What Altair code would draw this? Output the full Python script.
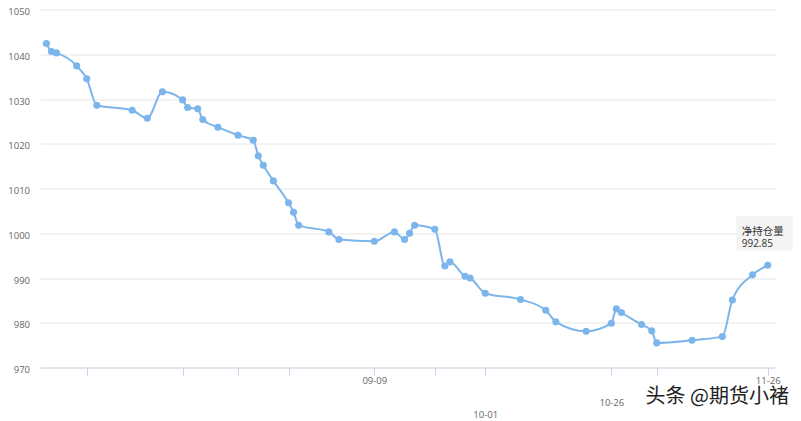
import altair as alt
import pandas as pd

series_name = "净持仓量"
watermark = "头条 @期货小褚"

dates = ["2020-07-06", "2020-07-07", "2020-07-08", "2020-07-12", "2020-07-14", "2020-07-16",
         "2020-07-23", "2020-07-26", "2020-07-29", "2020-08-02", "2020-08-03", "2020-08-05",
         "2020-08-06", "2020-08-09", "2020-08-13", "2020-08-16", "2020-08-17", "2020-08-18",
         "2020-08-20", "2020-08-23", "2020-08-24", "2020-08-25", "2020-08-31", "2020-09-02",
         "2020-09-09", "2020-09-13", "2020-09-15", "2020-09-16", "2020-09-17", "2020-09-21",
         "2020-09-23", "2020-09-24", "2020-09-27", "2020-09-28", "2020-10-01", "2020-10-08",
         "2020-10-13", "2020-10-15", "2020-10-21", "2020-10-26", "2020-10-27", "2020-10-28",
         "2020-11-01", "2020-11-03", "2020-11-04", "2020-11-11", "2020-11-17", "2020-11-19",
         "2020-11-23", "2020-11-26"]
values = [1042.4, 1040.6, 1040.3, 1037.4, 1034.5, 1028.6, 1027.5, 1025.7, 1031.6, 1029.8,
          1028.1, 1027.8, 1025.4, 1023.7, 1021.9, 1020.8, 1017.3, 1015.2, 1011.7, 1006.8,
          1004.7, 1001.8, 1000.3, 998.6, 998.2, 1000.3, 998.6, 1000.0, 1001.8, 1000.9,
          992.7, 993.6, 990.4, 990.0, 986.6, 985.2, 982.8, 980.2, 978.1, 979.9,
          983.1, 982.3, 979.6, 978.2, 975.5, 976.1, 976.9, 985.1, 990.7, 992.85]

tick_dates = ["2020-07-14", "2020-08-02", "2020-08-13", "2020-08-23", "2020-09-09",
              "2020-09-21", "2020-10-01", "2020-10-26", "2020-11-04", "2020-11-26"]
tick_labels = ["", "", "", "", "09-09", "", "10-01", "10-26", "", "11-26"]
label_drop = [0, 0, 0, 0, 0, 0, 34, 22, 0, 0]   # staggered label rows (px)
y_ticks = [970, 980, 990, 1000, 1010, 1020, 1030, 1040, 1050]

df = pd.DataFrame({"date": dates, "value": values})


def ms(s):
    return int(pd.Timestamp(s, tz="UTC").value // 10**6)


x_domain = [ms("2020-07-04 17:30"), ms("2020-11-27 10:45")]
tick_ms = [ms(d) for d in tick_dates]

label_expr = "''"
for t, lab in zip(tick_dates, tick_labels):
    if lab:
        label_expr = f"utcFormat(datum.value, '%Y-%m-%d') == '{t}' ? '{lab}' : " + label_expr

pad_conditions = [
    {"test": f"utcFormat(datum.value, '%Y-%m-%d') == '{t}'", "value": d}
    for t, d in zip(tick_dates, label_drop) if d
]
label_padding = {"condition": pad_conditions, "value": 0}

blue = "#7cb5ec"
axis_font = "Open Sans"

base = alt.Chart(df).encode(
    x=alt.X("date:T",
            scale=alt.Scale(type="utc", domain=x_domain),
            axis=alt.Axis(values=tick_ms, labelExpr=label_expr, grid=False,
                          domainColor="#ccd6eb", tickColor="#ccd6eb", tickSize=8,
                          labelPadding=label_padding, labelColor="#666666",
                          labelFontSize=9.5, labelFont=axis_font,
                          labelOverlap=False, labelFlush=False, title=None)),
    y=alt.Y("value:Q",
            scale=alt.Scale(domain=[970, 1050], nice=False, zero=False),
            axis=alt.Axis(values=y_ticks, format="d", grid=True, gridColor="#e6e6e6",
                          domain=False, ticks=False, labelPadding=10.5, labelOffset=2,
                          labelColor="#666666", labelFontSize=9.5, labelFont=axis_font,
                          title=None)),
)

line = base.mark_line(interpolate="monotone", color=blue, strokeWidth=2)
pts = base.mark_point(filled=True, size=50, color=blue, opacity=1)

last = base.transform_filter(alt.datum.value == values[-1])
box = last.mark_point(shape="M-1,-0.6L1,-0.6L1,0.6L-1,0.6Z", size=3249, filled=True,
                      color="#f2f2f2", opacity=0.85, strokeWidth=0, xOffset=-3, yOffset=-32)
txt1 = last.mark_text(align="left", baseline="middle", dx=-26, dy=-33,
                      font="Noto Sans CJK SC", fontSize=10.5, color="#333333").encode(
    text=alt.value(series_name))
txt2 = last.mark_text(align="left", baseline="middle", dx=-26, dy=-21.4,
                      font=axis_font, fontSize=10, color="#333333").encode(
    text=alt.Text("value:Q", format=".2f"))

chart = alt.layer(line, pts, box, txt1, txt2).properties(
    width=735, height=358,
    autosize=alt.AutoSizeParams(type="none"),
    padding={"left": 32, "top": 1.5, "right": 18, "bottom": 52},
    title=alt.TitleParams(text=watermark, orient="bottom", anchor="end", frame="group",
                          offset=-32, dx=14, fontSize=20, font="Noto Sans CJK SC",
                          color="#222222", fontWeight="normal"),
).configure_view(strokeWidth=0)

chart.save("out.html", embed_options={"renderer": "svg", "actions": False})
